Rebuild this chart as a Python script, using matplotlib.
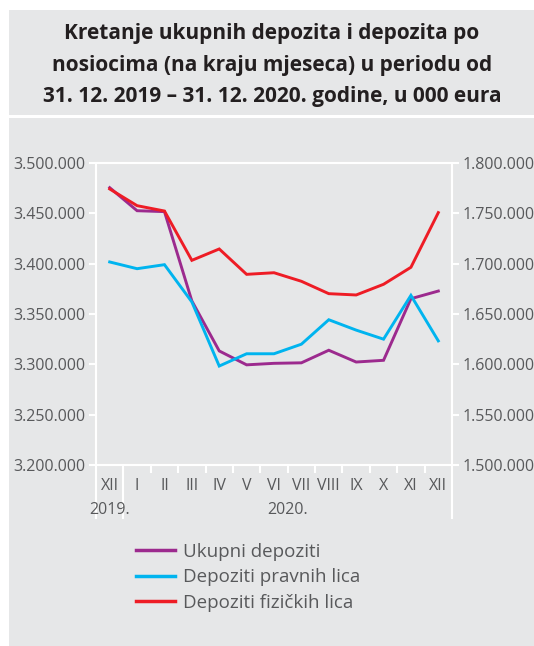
import numpy as np
import matplotlib.pyplot as plt
from matplotlib.patches import Rectangle
from matplotlib.ticker import FuncFormatter

plt.rcParams['font.family'] = ['Open Sans', 'DejaVu Sans']

months = ['XII', 'I', 'II', 'III', 'IV', 'V', 'VI', 'VII', 'VIII', 'IX', 'X', 'XI', 'XII']
years = ['2019.', '2020.']
ukupni = [3475500, 3452600, 3451700, 3363000, 3313300, 3299500, 3301000,
          3301500, 3314000, 3302300, 3304000, 3365200, 3372800]
pravna = [1701700, 1695000, 1699000, 1662000, 1598300, 1610500, 1610500,
          1620000, 1644300, 1634000, 1625000, 1668500, 1623300]
fizicka = [1774200, 1757600, 1752300, 1703300, 1714600, 1689400, 1691000,
           1682500, 1670200, 1668900, 1679500, 1696400, 1750700]
labels = ['Ukupni depoziti', 'Depoziti pravnih lica', 'Depoziti fizičkih lica']
title_lines = ['Kretanje ukupnih depozita i depozita po',
               'nosiocima (na kraju mjeseca) u periodu od',
               '31. 12. 2019 – 31. 12. 2020. godine, u 000 eura']

W, H = 534, 646
bg = '#e6e7e8'
txt = '#58595b'
c_uk, c_pr, c_fi = '#9c2a8e', '#00b4ef', '#ee1c25'

fig = plt.figure(figsize=(W / 100, H / 100), dpi=100)
fig.patch.set_facecolor('white')
# two grey panels
fig.patches.append(Rectangle((9 / W, 1 - 115 / H), 1, 105 / H, transform=fig.transFigure,
                             facecolor=bg, edgecolor='none', zorder=-10))
fig.patches.append(Rectangle((9 / W, 0), 1, 1 - 118 / H, transform=fig.transFigure,
                             facecolor=bg, edgecolor='none', zorder=-10))

for i, line in enumerate(title_lines):
    fig.text(272 / W, 1 - (39 + i * 31.5) / H, line, ha='center', va='baseline',
             fontsize=15, fontweight='bold', color='#231f20')

ax = fig.add_axes([96 / W, 1 - 465 / H, (452 - 96) / W, (465 - 163) / H])
ax.set_facecolor('none')
ax2 = ax.twinx()

x = np.arange(len(months))
ax.plot(x, ukupni, color=c_uk, lw=2.1, solid_joinstyle='miter')
ax2.plot(x, pravna, color=c_pr, lw=2.1, solid_joinstyle='miter')
ax2.plot(x, fizicka, color=c_fi, lw=2.1, solid_joinstyle='miter')

ax.set_xlim(-0.5, 12.5)
ax.set_ylim(3200000, 3500000)
ax2.set_ylim(1500000, 1800000)
ax.set_yticks(np.arange(3200000, 3500001, 50000))
ax2.set_yticks(np.arange(1500000, 1800001, 50000))
fmt = FuncFormatter(lambda v, p: f'{v:,.0f}'.replace(',', '.'))
ax.yaxis.set_major_formatter(fmt)
ax2.yaxis.set_major_formatter(fmt)

for a in (ax, ax2):
    for s in a.spines.values():
        s.set_color('white')
        s.set_linewidth(1.5)
    a.tick_params(axis='y', colors='white', labelcolor=txt, labelsize=11.5,
                  length=5, width=1.5, pad=2.5)

ax.set_xticks(x)
ax.set_xticklabels(months)
ax.set_xticks(x[:-1] + 0.5, minor=True)
ax.tick_params(axis='x', which='major', length=0, labelsize=11.5, labelcolor=txt, pad=9)
ax.tick_params(axis='x', which='minor', length=6, width=1.5, color='white')

# long separators for year grouping
ext = -(518 - 465) / (465 - 163)
for xv in (-0.5, 0.5, 12.5):
    ax.axvline(xv, ymin=ext, ymax=0, color='white', lw=1.5, clip_on=False)

yr_y = -(510 - 465) / (465 - 163)
ax.text(0, yr_y, years[0], transform=ax.get_xaxis_transform(), ha='center', va='center',
        fontsize=11.5, color=txt)
ax.text(6.5, yr_y, years[1], transform=ax.get_xaxis_transform(), ha='center', va='center',
        fontsize=11.5, color=txt)

handles = [plt.Line2D([], [], color=c, lw=2.5) for c in (c_uk, c_pr, c_fi)]
leg = fig.legend(handles, labels, loc='upper left', bbox_to_anchor=(136 / W, 1 - 543 / H),
                 frameon=False, fontsize=13.5, handlelength=2.1, handletextpad=0.4,
                 labelspacing=0.4, borderpad=0, borderaxespad=0)
for t in leg.get_texts():
    t.set_color(txt)

fig.savefig('out.png', dpi=100, facecolor=fig.get_facecolor())
